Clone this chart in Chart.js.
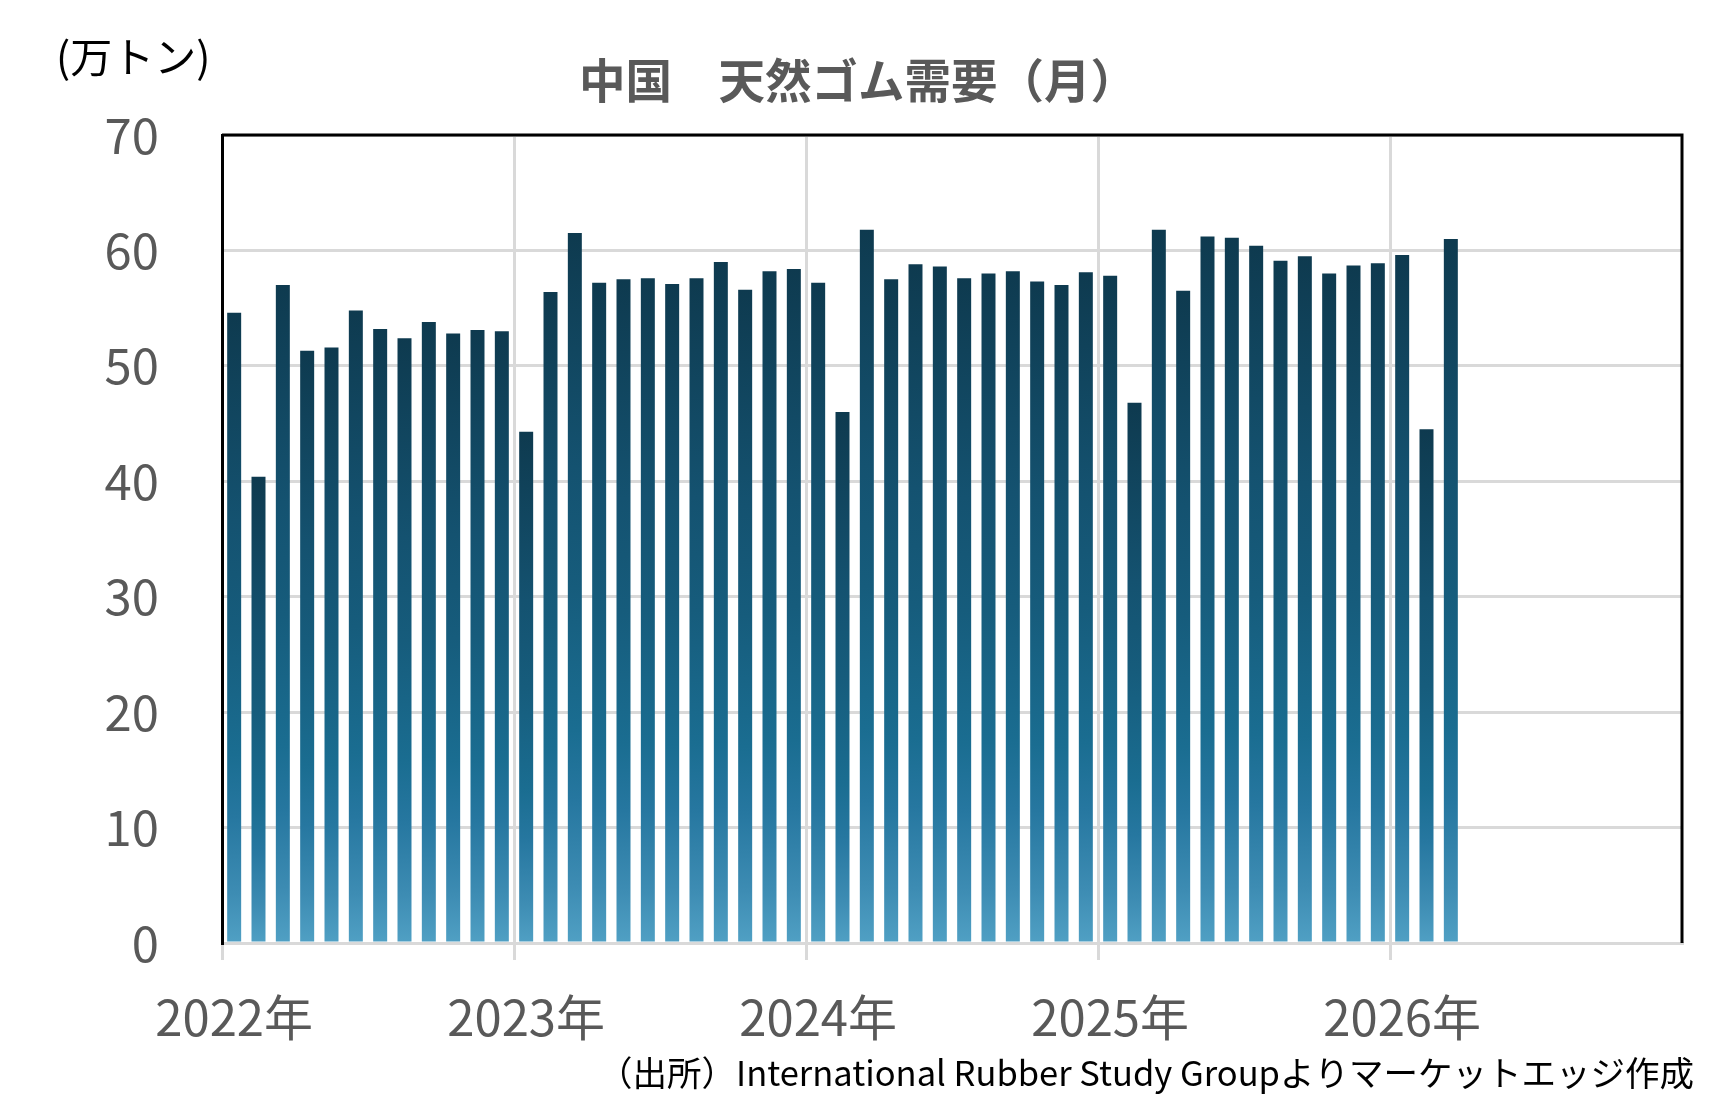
<!DOCTYPE html>
<html>
<head>
<meta charset="utf-8">
<script src="https://cdn.jsdelivr.net/npm/chart.js@4/dist/chart.umd.min.js"></script>
<style>
  html, body { margin: 0; padding: 0; background: #fff; }
  #wrap { width: 1733px; height: 1118px; }
</style>
</head>
<body>
<div id="wrap"><canvas id="chart" width="1733" height="1118"></canvas></div>
<script>
// Data
const years = ["2022年", "2023年", "2024年", "2025年", "2026年"];
const monthNames = ["1月", "2月", "3月", "4月", "5月", "6月", "7月", "8月", "9月", "10月", "11月", "12月"];
// 中国 天然ゴム需要（万トン）, 2022年1月〜2026年3月
const demand = [
  54.6, 40.4, 57.0, 51.3, 51.6, 54.8, 53.2, 52.4, 53.8, 52.8, 53.1, 53.0,
  44.3, 56.4, 61.5, 57.2, 57.5, 57.6, 57.1, 57.6, 59.0, 56.6, 58.2, 58.4,
  57.2, 46.0, 61.8, 57.5, 58.8, 58.6, 57.6, 58.0, 58.2, 57.3, 57.0, 58.1,
  57.8, 46.8, 61.8, 56.5, 61.2, 61.1, 60.4, 59.1, 59.5, 58.0, 58.7, 58.9,
  59.6, 44.5, 61.0
];
const yTicks = [0, 10, 20, 30, 40, 50, 60, 70];

const titleText = "中国　天然ゴム需要（月）";
const unitText = "(万トン)";
const sourceText = "（出所）International Rubber Study Groupよりマーケットエッジ作成";

// month categories (the axis runs through the end of 2026)
const labels = [];
years.forEach(y => monthNames.forEach(m => labels.push(y + m)));

const FONT = "'Noto Sans CJK JP', 'Noto Sans', sans-serif";
const gray = "#595959";
const gridGray = "#d9d9d9";

// each bar: dark at its top, light at the base
function barGradient(context) {
  const chart = context.chart;
  const { chartArea, scales } = chart;
  if (!chartArea || context.type !== "data" || context.raw == null) return "#1a6083";
  const top = scales.y.getPixelForValue(context.raw);
  const bottom = scales.y.getPixelForValue(0);
  const g = chart.ctx.createLinearGradient(0, top, 0, bottom);
  g.addColorStop(0, "#0e3a4f");
  g.addColorStop(0.33, "#145270");
  g.addColorStop(0.5, "#165c7c");
  g.addColorStop(0.7, "#1a6d91");
  g.addColorStop(0.8, "#2677a0");
  g.addColorStop(0.92, "#3d8cb3");
  g.addColorStop(1, "#50a0c4");
  return g;
}

// texts and the black frame on top / right
const decorations = {
  id: "decorations",
  afterDraw(chart) {
    const { ctx, chartArea } = chart;
    ctx.save();
    ctx.strokeStyle = "#000";
    ctx.lineWidth = 3;
    ctx.beginPath();
    ctx.moveTo(chartArea.left, chartArea.top);
    ctx.lineTo(chartArea.right, chartArea.top);
    ctx.lineTo(chartArea.right, chartArea.bottom);
    ctx.stroke();

    ctx.textBaseline = "middle";
    ctx.fillStyle = gray;
    ctx.font = "bold 46.5px " + FONT;
    ctx.textAlign = "center";
    ctx.fillText(titleText, 858, 80);

    ctx.fillStyle = "#000";
    ctx.font = "42px " + FONT;
    ctx.textAlign = "left";
    ctx.fillText(unitText, 56, 57);

    ctx.font = "34.5px " + FONT;
    ctx.textAlign = "right";
    ctx.fillText(sourceText, 1694, 1073);
    ctx.restore();
  }
};

new Chart(document.getElementById("chart"), {
  type: "bar",
  data: {
    labels: labels,
    datasets: [{
      data: demand,
      backgroundColor: barGradient,
      borderWidth: 0,
      barPercentage: 0.575,
      categoryPercentage: 1.0
    }]
  },
  options: {
    responsive: false,
    devicePixelRatio: 1,
    animation: false,
    layout: { padding: { top: 135, right: 51, left: 0, bottom: 0 } },
    plugins: {
      legend: { display: false },
      title: { display: false },
      tooltip: { enabled: false }
    },
    scales: {
      x: {
        offset: true,
        grid: {
          offset: true,
          color: (c) => (c.index % 12 === 0 ? gridGray : "rgba(0,0,0,0)"),
          lineWidth: 3,
          tickLength: 17
        },
        border: { color: gridGray, width: 3 },
        ticks: {
          autoSkip: false,
          maxRotation: 0,
          minRotation: 0,
          padding: 28,
          color: gray,
          font: { family: FONT, size: 49 },
          callback: (val, i) => (i % 12 === 0 ? years[i / 12] : "")
        },
        afterFit: (scale) => { scale.height = 1118 - 943; }
      },
      y: {
        min: 0,
        max: 70,
        afterBuildTicks: (scale) => { scale.ticks = yTicks.map(v => ({ value: v })); },
        grid: { color: gridGray, lineWidth: 3, drawTicks: false },
        border: { color: "#000", width: 3 },
        ticks: {
          padding: 63,
          color: gray,
          font: { family: FONT, size: 49 }
        },
        afterFit: (scale) => { scale.width = 222; }
      }
    }
  },
  plugins: [decorations]
});
</script>
</body>
</html>
